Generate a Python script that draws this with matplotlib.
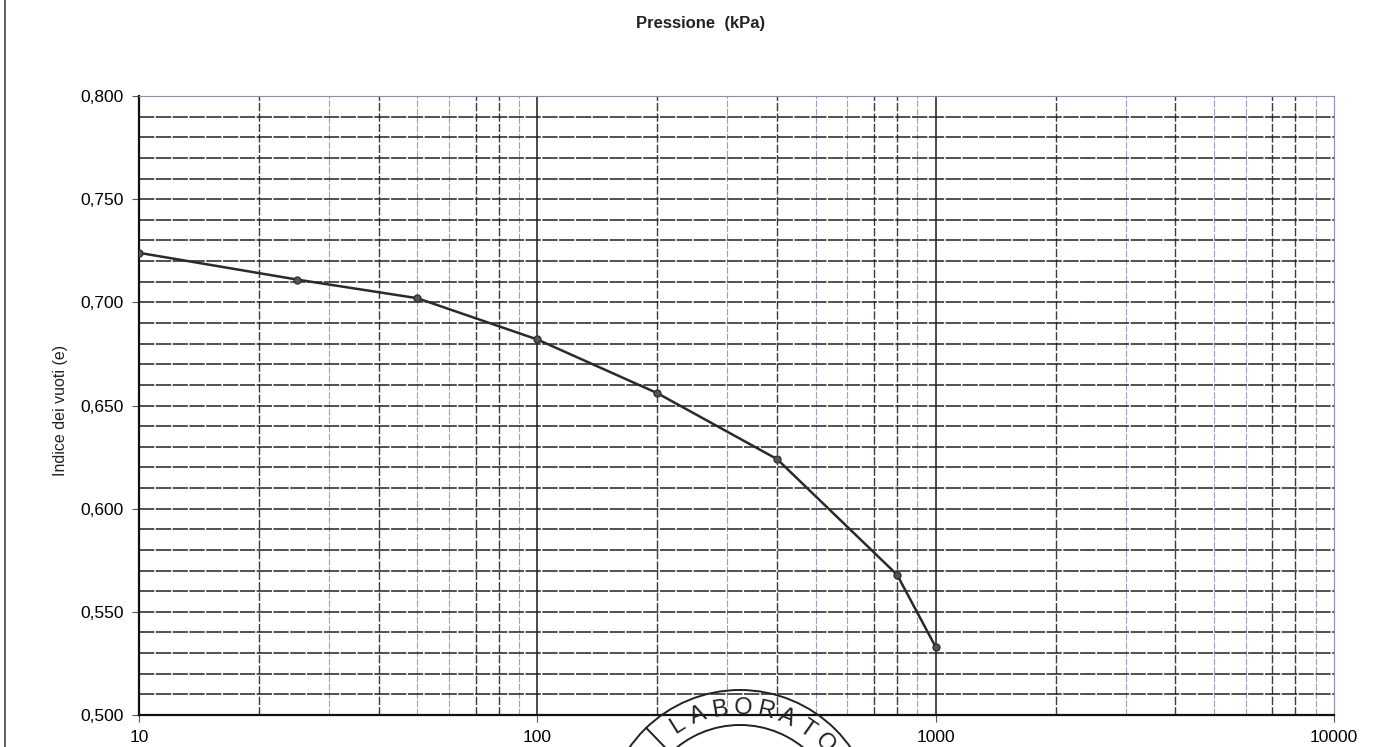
import numpy as np
import matplotlib.pyplot as plt
from matplotlib.patches import Arc
from matplotlib.ticker import FixedLocator, NullFormatter

# oedometer test: load steps and void ratio
pressione = [10, 25, 50, 100, 200, 400, 800, 1000]
indice_vuoti = [0.724, 0.711, 0.702, 0.682, 0.656, 0.624, 0.568, 0.533]

x_ticks = [10, 100, 1000, 10000]
x_labels = ['10', '100', '1000', '10000']
y_ticks = [0.50, 0.55, 0.60, 0.65, 0.70, 0.75, 0.80]

plt.rcParams['font.family'] = ['Liberation Sans', 'DejaVu Sans']

fig = plt.figure(figsize=(13.73, 7.47), dpi=100)
ax = fig.add_axes([0.1012, 0.0428, 0.8704, 0.8287])

ax.set_xscale('log')
ax.set_xlim(10, 10000)
ax.set_ylim(0.5, 0.8)

# minor grid: every 0.01 on y, 2..9 per decade on x
minor_x = [m * 10 ** d for d in range(1, 4) for m in range(2, 10)]
ax.xaxis.set_minor_locator(FixedLocator(minor_x))
ax.xaxis.set_minor_formatter(NullFormatter())
ax.yaxis.set_minor_locator(FixedLocator(np.arange(0.51, 0.80, 0.01)))

for xv in minor_x:
    dark = str(xv)[0] in '2478'
    ax.axvline(xv, color='#3a3a4a' if dark else '#9aa0c0',
               lw=1.0 if dark else 0.8, ls=(0, (6, 1.5)), zorder=1)
for xv in x_ticks[1:-1]:
    ax.axvline(xv, color='#1a1a1a', lw=1.1, zorder=1)
for yv in np.arange(0.51, 0.80, 0.01):
    ax.axhline(yv, color='#222222', lw=1.1, ls=(0, (10, 1)), zorder=1)

ax.plot(pressione, indice_vuoti, color='#2a2a2a', lw=1.8, marker='o',
        markersize=5, markerfacecolor='#555555', markeredgecolor='#333333',
        zorder=3)

ax.set_xticks(x_ticks)
ax.set_xticklabels(x_labels)
ax.set_yticks(y_ticks)
ax.set_yticklabels([f'{v:.3f}'.replace('.', ',') for v in y_ticks])
ax.tick_params(axis='both', which='major', labelsize=12.5, length=5,
               width=0.8, color='#555555', pad=6)
ax.tick_params(axis='x', which='minor', length=0)
ax.tick_params(axis='y', which='minor', length=0)

for side in ['top', 'right']:
    ax.spines[side].set_color('#8890b0')
    ax.spines[side].set_linewidth(0.8)
ax.spines['left'].set_linewidth(1.6)
ax.spines['left'].set_color('#111111')
ax.spines['bottom'].set_linewidth(1.6)
ax.spines['bottom'].set_color('#111111')

fig.text(0.51, 0.968, 'Pressione  (kPa)', ha='center', va='center',
         fontsize=12, fontweight='bold', color='#222222')
fig.text(0.044, 0.45, 'Indice dei vuoti (e)', ha='center', va='center',
         rotation=90, fontsize=11.5, color='#222222')

# page edge on the left
fig.add_artist(plt.Line2D([0.004, 0.004], [0.0, 1.0], color='#444444', lw=1.2))

# laboratory stamp at the bottom (pixel coordinates, origin bottom-left)
cx, cy = 740, -78
for r in [135, 100]:
    fig.add_artist(Arc((cx, cy), 2 * r, 2 * r, theta1=0, theta2=180,
                       transform=None, color='#222222', lw=1.4))
div = np.deg2rad(134)
fig.add_artist(plt.Line2D([cx + 100 * np.cos(div), cx + 135 * np.cos(div)],
                          [cy + 100 * np.sin(div), cy + 135 * np.sin(div)],
                          transform=None, color='#222222', lw=1.4))
letters = 'LABORATO'
angles = np.linspace(122, 44, len(letters))
for ch, a in zip(letters, angles):
    rad = np.deg2rad(a)
    fig.text(cx + 117 * np.cos(rad), cy + 117 * np.sin(rad), ch,
             ha='center', va='center', rotation=a - 90, fontsize=17,
             color='#222222', transform=None)

fig.savefig('out.png', dpi=100)
